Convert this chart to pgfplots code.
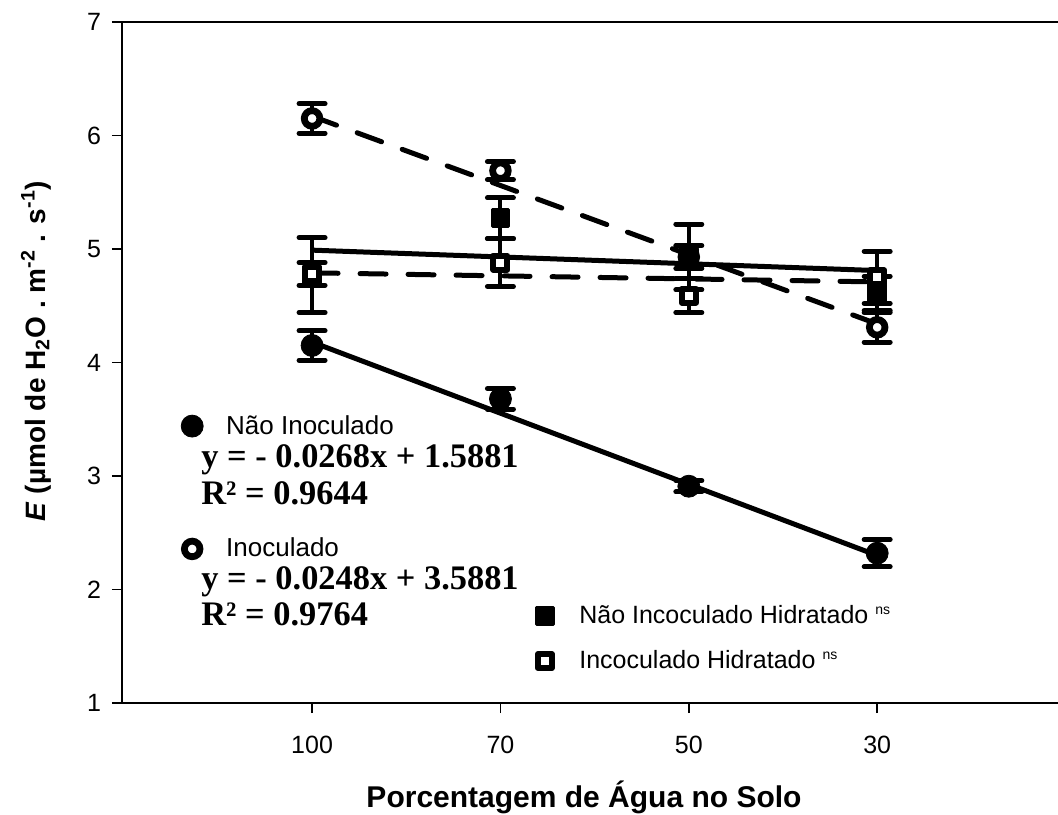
\documentclass[border=0pt]{standalone}
\usepackage{fontspec}
\setmainfont{Liberation Sans}
\newfontfamily\timesfont{Liberation Serif}
\usepackage{pgfplots}
\pgfplotsset{compat=1.18}

\pgfplotsset{
  errstyle/.style={error bars/.cd, y dir=both, y explicit,
    error bar style={line width=2pt, line cap=round},
    error mark options={rotate=90, mark size=6.5pt, line width=2.5pt, line cap=round}},
  fullcirc/.style={only marks, mark=*, mark size=5.5pt, black, mark options={fill=black}},
  opencirc/.style={only marks, mark=*, mark size=3.9pt, black, mark options={fill=white, line width=3.4pt}},
  fullsq/.style={only marks, mark=square*, mark size=4.2pt, black, mark options={fill=black, line width=1.5pt, line join=round}},
  opensq/.style={only marks, mark=square*, mark size=3.5pt, black, mark options={fill=white, line width=3pt, line join=round}},
  dashline/.style={line width=2.5pt, line cap=round, dash pattern=on 13pt off 11pt},
}

\begin{document}
\begin{tikzpicture}
\begin{axis}[
  name=main,
  scale only axis,
  width=468pt, height=340.5pt,
  xmin=-1.009, xmax=3.96,
  ymin=1, ymax=7,
  axis x line*=bottom, axis y line*=left,
  axis line style={line width=0.9pt, -},
  tick style={line width=0.9pt, black},
  tick align=outside, major tick length=5pt,
  xtick={0,1,2,3}, xticklabels={100,70,50,30},
  ytick={1,2,3,4,5,6,7},
  /pgf/number format/assume math mode=true,
  tick label style={font=\fontsize{12.5}{15}\selectfont},
  xticklabel style={yshift=-8pt},
  yticklabel style={xshift=-2pt},
  xlabel={\bfseries Porcentagem de Água no Solo},
  xlabel style={at={(axis description cs:0.4936,-0.154)}, anchor=base, font=\fontsize{15}{18}\selectfont},
  ylabel={\bfseries\textit{E} (µmol de H\textsubscript{2}O . m\textsuperscript{-2} . s\textsuperscript{-1})},
  ylabel style={at={(axis description cs:-0.092,0.517)}, anchor=center, font=\fontsize{14}{17}\selectfont},
  legend style={at={(axis description cs:0.0564,0.435)}, anchor=north west, draw=none, fill=none,
    font=\fontsize{13}{15}\selectfont, row sep=46.5pt, cells={anchor=west}},
  clip=false,
]
% regression lines
\addplot[forget plot, line width=2.5pt] coordinates {(0,4.18) (3,2.30)};
\addplot[forget plot, dashline] coordinates {(0,6.17) (3,4.34)};
\addplot[forget plot, line width=2.5pt] coordinates {(0,4.99) (3,4.81)};
\addplot[forget plot, dashline] coordinates {(0,4.79) (3,4.71)};

% Inoculado
\addplot[forget plot, opencirc, errstyle] coordinates {
  (0,6.15) +- (0,0.13) (1,5.69) +- (0,0.08) (2,4.93) +- (0,0.10) (3,4.31) +- (0,0.13)};
% Nao Incoculado Hidratado
\addplot[forget plot, fullsq, errstyle] coordinates {
  (0,4.77) +- (0,0.33) (1,5.27) +- (0,0.18) (2,4.93) +- (0,0.29) (3,4.61) +- (0,0.15)};
% Incoculado Hidratado
\addplot[forget plot, opensq, errstyle] coordinates {
  (0,4.78) +- (0,0.10) (1,4.88) +- (0,0.21) (2,4.59) +- (0,0.15) (3,4.75) +- (0,0.23)};
% Nao Inoculado
\addplot[forget plot, fullcirc, errstyle] coordinates {
  (0,4.15) +- (0,0.13) (1,3.68) +- (0,0.09) (2,2.91) +- (0,0.05) (3,2.32) +- (0,0.12)};

\addlegendimage{fullcirc}
\addlegendentry{\hspace*{9.5pt}Não Inoculado}
\addlegendimage{opencirc}
\addlegendentry{\hspace*{9.5pt}Inoculado}

\draw[line width=0.9pt] (rel axis cs:0,1) -- (rel axis cs:1,1);
\end{axis}

\begin{axis}[
  at={(main.south west)}, anchor=south west,
  scale only axis, width=468pt, height=340.5pt,
  xmin=-1.009, xmax=3.96, ymin=1, ymax=7,
  hide axis,
  legend style={at={(axis description cs:0.436,0.1557)}, anchor=north west, draw=none, fill=none,
    font=\fontsize{12.5}{15}\selectfont, row sep=8pt, cells={anchor=west}},
]
\addlegendimage{fullsq}
\addlegendentry{\hspace*{11pt}Não Incoculado Hidratado \textsuperscript{\scriptsize ns}}
\addlegendimage{opensq}
\addlegendentry{\hspace*{11pt}Incoculado Hidratado \textsuperscript{\scriptsize ns}}
\end{axis}

\begin{scope}[every node/.style={anchor=base west, inner sep=0pt, font=\timesfont\bfseries\fontsize{17.2}{19}\selectfont}]
\node at (39.5pt,118pt) {y = - 0.0268x + 1.5881};
\node at (39.5pt,99.5pt) {R² = 0.9644};
\node at (39.5pt,57pt) {y = - 0.0248x + 3.5881};
\node at (39.5pt,39pt) {R² = 0.9764};
\end{scope}

\pgfresetboundingbox
\useasboundingbox (-61pt,-55.5pt) rectangle (468pt,351.5pt);
\end{tikzpicture}
\end{document}
